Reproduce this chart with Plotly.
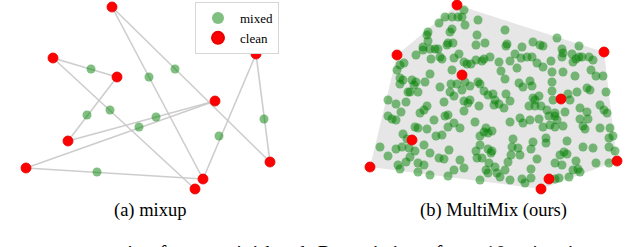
import plotly.graph_objects as go

# ---------------- Data ----------------
# (a) mixup: clean points and the pairs that were mixed
clean_a_x = [112, 53, 117, 256, 215, 68, 26, 270, 203, 195]
clean_a_y = [7, 58, 77, 54, 101, 141, 168, 162, 179, 189]
pair_i = [1, 2, 0, 0, 1, 4, 4, 3, 3, 6]
pair_j = [2, 5, 7, 8, 9, 5, 6, 7, 8, 8]
mixed_a_x = [91, 149, 175, 87, 110, 156, 139, 264, 219, 97]
mixed_a_y = [69, 77, 69, 115, 110, 117, 127, 119, 136, 172]

# (b) MultiMix: clean points, convex hull order, and mixed points
clean_b_x = [457, 604, 617, 541, 370, 397, 462, 561, 412, 549]
clean_b_y = [5, 52, 161, 189, 167, 55, 75, 99, 140, 179]
hull_order = [0, 1, 2, 3, 4, 5]

mixed_b_x = [
    464, 445, 452, 458, 462, 439, 478, 465, 452, 450, 428, 427, 477, 428, 448, 453, 447, 476, 485, 423,
    423, 430, 435, 438, 416, 431, 442, 440, 454, 459, 476, 482, 484, 490, 464, 467, 404, 400,
    505, 557, 507, 506, 522, 533, 540, 543, 579, 562, 563, 572, 515, 527, 532, 521, 562, 576, 579, 582,
    589, 593, 573, 551, 537, 510, 499, 543, 517,
    397, 471, 452, 430, 400, 403, 412, 416, 425, 400, 414, 440, 451, 457, 465, 470, 478, 480, 462, 450,
    454, 484, 488, 408, 410, 418, 388, 396, 406, 401, 427, 424, 420, 444, 464, 470, 468, 479, 464, 445,
    448, 388, 392, 396, 434, 454, 448, 460, 475, 486, 418, 415, 494,
    501, 505, 519, 523, 530, 532, 552, 563, 575, 591, 596, 603, 552, 552, 568, 577, 587, 590, 606, 506,
    495, 499, 510, 504, 533, 535, 539, 541, 535, 529, 553, 570, 580, 600, 604, 607, 547, 555, 565, 549,
    555, 587, 588, 580, 520, 530, 539, 557, 510, 523, 550, 563, 555, 583, 600, 610, 493,
    427, 436, 442, 403, 407, 480, 484, 488, 492, 380, 396, 402, 409, 415, 424, 430, 449, 388, 410, 406,
    439, 444, 460, 476, 477, 482, 480, 488, 492, 398, 400, 418, 424, 418, 430, 448, 454, 464, 486, 488,
    480, 489,
    543, 585, 609, 613, 513, 533, 546, 546, 567, 512, 518, 531, 583, 593, 609, 615, 491, 511, 520, 537,
    564, 567, 560, 508, 555, 562, 576, 596, 609, 531, 495, 505, 573, 578, 580, 497, 500, 510, 522, 525,
    531, 559, 569, 555,
]
mixed_b_y = [
    10, 17, 17, 17, 17, 23, 20, 25, 29, 32, 32, 35, 35, 41, 43, 43, 45, 45, 43, 47,
    50, 49, 49, 49, 55, 59, 59, 57, 58, 54, 60, 61, 59, 57, 62, 64, 63, 65,
    30, 38, 44, 46, 47, 42, 45, 46, 46, 49, 53, 54, 54, 57, 57, 58, 57, 59, 57, 57,
    57, 60, 62, 61, 63, 61, 62, 67, 68,
    70, 64, 70, 74, 78, 80, 80, 82, 82, 84, 85, 87, 84, 84, 82, 86, 82, 84, 90, 92,
    96, 91, 95, 92, 92, 92, 100, 104, 102, 112, 106, 110, 113, 102, 101, 100, 103, 106, 111, 116,
    115, 116, 119, 120, 120, 123, 127, 128, 122, 128, 128, 127, 105,
    71, 79, 83, 87, 81, 86, 72, 72, 76, 70, 76, 76, 82, 91, 94, 92, 88, 90, 92, 94,
    100, 104, 101, 108, 98, 100, 96, 106, 106, 106, 100, 100, 108, 105, 110, 113, 110, 113, 112, 116,
    116, 112, 119, 119, 118, 120, 119, 120, 122, 123, 125, 126, 127, 126, 128, 128, 94,
    129, 136, 135, 134, 139, 136, 132, 133, 131, 147, 149, 147, 148, 151, 145, 153, 150, 156, 157, 162,
    158, 159, 160, 151, 158, 158, 145, 149, 151, 165, 169, 163, 165, 172, 175, 176, 170, 168, 170, 173,
    180, 163,
    127, 129, 138, 136, 139, 142, 138, 143, 141, 147, 148, 149, 147, 148, 147, 151, 153, 155, 155, 159,
    152, 154, 155, 162, 163, 165, 161, 163, 163, 169, 167, 170, 170, 169, 172, 173, 177, 180, 179, 183,
    178, 178, 177, 179,
]

# Caption texts
caption_a = "(a) mixup"
caption_b = "(b) MultiMix (ours)"
caption_body = "ate augmentation from a mini-batch <i>B</i> consisting of <i>m</i> = 10 points in two"

# ---------------- Styles ----------------
GREEN = "rgba(0,128,0,0.5)"
RED = "rgb(255,0,0)"
LINE = "rgba(200,200,200,0.9)"
HULL = "rgb(230,230,230)"
FONT = "Liberation Serif"

fig = go.Figure()

# mixup lines
lx, ly = [], []
for a, b in zip(pair_i, pair_j):
    lx += [clean_a_x[a], clean_a_x[b], None]
    ly += [clean_a_y[a], clean_a_y[b], None]
fig.add_trace(go.Scatter(x=lx, y=ly, mode="lines", line=dict(color=LINE, width=1.6),
                         showlegend=False, hoverinfo="skip"))

# MultiMix hull
hx = [clean_b_x[k] for k in hull_order] + [clean_b_x[hull_order[0]]]
hy = [clean_b_y[k] for k in hull_order] + [clean_b_y[hull_order[0]]]
fig.add_trace(go.Scatter(x=hx, y=hy, mode="lines", fill="toself", fillcolor=HULL,
                         line=dict(width=0, color=HULL), showlegend=False, hoverinfo="skip"))

# mixed points
fig.add_trace(go.Scatter(x=mixed_a_x, y=mixed_a_y, mode="markers", name="mixed",
                         marker=dict(size=9, color=GREEN, line=dict(width=0))))
fig.add_trace(go.Scatter(x=mixed_b_x, y=mixed_b_y, mode="markers", showlegend=False,
                         marker=dict(size=9, color=GREEN, line=dict(width=0))))

# clean points
fig.add_trace(go.Scatter(x=clean_a_x, y=clean_a_y, mode="markers", name="clean",
                         marker=dict(size=10, color=RED, line=dict(width=0.8, color="rgb(230,0,0)"))))
fig.add_trace(go.Scatter(x=clean_b_x, y=clean_b_y, mode="markers", showlegend=False,
                         marker=dict(size=10, color=RED, line=dict(width=0.8, color="rgb(230,0,0)"))))

# captions
fig.add_annotation(x=150, y=210.5, xref="x", yref="y", text=caption_a, showarrow=False,
                   font=dict(family=FONT, size=18.5, color="black"), xanchor="center", yanchor="middle")
fig.add_annotation(x=493, y=210.5, xref="x", yref="y", text=caption_b, showarrow=False,
                   font=dict(family=FONT, size=18.5, color="black"), xanchor="center", yanchor="middle")
fig.add_annotation(x=8 / 640, y=1 - 253 / 247, xref="paper", yref="paper", text=caption_body,
                   showarrow=False, font=dict(family=FONT, size=21, color="black"),
                   xanchor="left", yanchor="middle")

fig.update_traces(cliponaxis=False, selector=dict(mode="markers"))

fig.update_layout(
    width=640, height=247,
    margin=dict(l=0, r=0, t=0, b=0),
    paper_bgcolor="white", plot_bgcolor="white",
    xaxis=dict(range=[0, 640], visible=False, fixedrange=True),
    yaxis=dict(range=[247, 0], visible=False, fixedrange=True),
    legend=dict(x=195 / 640, y=1 - 2 / 247, xanchor="left", yanchor="top",
                bgcolor="white", bordercolor="rgb(215,215,215)", borderwidth=1,
                font=dict(family=FONT, size=13, color="black"),
                itemsizing="constant", itemwidth=34, tracegroupgap=0),
    showlegend=True,
)

fig.write_html(
    "out.html",
    config={"displayModeBar": False},
    post_script="document.body.style.margin='0';document.body.style.overflow='hidden';",
)
